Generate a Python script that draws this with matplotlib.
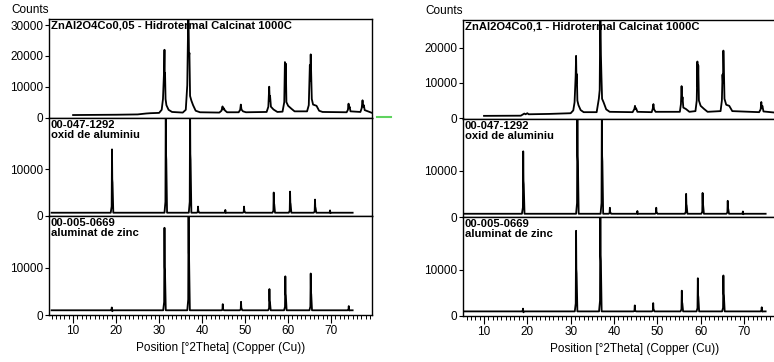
import matplotlib.pyplot as plt
from matplotlib.lines import Line2D
from matplotlib.ticker import MultipleLocator

plt.rcParams['font.family'] = ['Liberation Sans', 'DejaVu Sans']

scan05_x = [10.0, 15.0, 20.0, 25.0, 27.0, 28.0, 30.0, 30.6, 30.9, 31.15, 31.25, 31.32, 31.38, 31.5,
            31.7, 32.2, 33.0, 35.5, 36.2, 36.55, 36.8, 36.95, 37.05, 37.2, 37.5, 37.9, 38.5, 39.5,
            44.0, 44.5, 44.75, 44.9, 45.05, 45.3, 45.8, 48.5, 48.85, 49.0, 49.15, 49.5, 50.2,
            55.0, 55.4, 55.6, 55.72, 55.8, 56.0, 56.6, 57.5, 58.7, 59.1, 59.25, 59.35, 59.45, 59.6,
            60.0, 60.8, 61.5, 64.4, 64.8, 65.05, 65.12, 65.25, 65.38, 65.5, 65.8, 66.6, 67.2, 68.0,
            73.6, 73.9, 74.05, 74.15, 74.3, 74.5, 76.8, 77.1, 77.3, 77.45, 77.6, 77.8, 79.5]
scan05_y = [800, 850, 900, 1000, 1300, 1400, 1500, 2500, 6000, 15000, 22000, 13000, 14500, 6000,
            4000, 2500, 1800, 1600, 2500, 10500, 36000, 20000, 21000, 7000, 5500, 4000, 2200, 1700,
            1600, 2200, 3600, 2600, 3000, 2300, 1700, 1700, 2500, 4200, 2600, 2000, 1700,
            1800, 3500, 10000, 5500, 7000, 3500, 2600, 1800, 1900, 5000, 18000, 10000, 17500, 5000,
            3800, 2800, 2000, 2000, 4000, 17000, 12000, 20500, 13000, 6000, 4200, 3800, 2200, 1800,
            1700, 2500, 4500, 3000, 3500, 2000, 1800, 3000, 5600, 3500, 4000, 2400, 1500]

# measured scan ZnAl2O4Co0,1
scan1_x = [10.0, 18.5, 18.9, 19.3, 19.6, 20.0, 20.3, 25.0, 30.0, 30.6, 30.9, 31.15, 31.25, 31.35,
           31.42, 31.55, 31.8, 32.3, 33.0, 36.0, 36.5, 36.7, 36.85, 36.98, 37.1, 37.25, 37.6, 38.2,
           39.0, 44.3, 44.7, 44.85, 44.95, 45.1, 45.4, 48.7, 48.95, 49.1, 49.25, 49.6, 55.2, 55.45,
           55.6, 55.72, 55.82, 56.0, 56.6, 57.4, 58.8, 59.1, 59.25, 59.35, 59.45, 59.6, 60.0, 60.8,
           61.6, 64.6, 64.9, 65.05, 65.15, 65.25, 65.38, 65.5, 65.9, 66.6, 67.3, 73.5, 73.85, 74.0,
           74.1, 74.25, 74.5, 77.0, 79.5]
scan1_y = [650, 700, 1000, 1300, 1100, 1400, 1100, 1200, 1400, 2200, 4500, 12000, 17700, 10000,
           12500, 5000, 3700, 2300, 1700, 1700, 5500, 8000, 32000, 18000, 12000, 5500, 4500, 2500,
           1800, 1700, 2600, 3500, 2600, 2800, 1800, 1700, 2700, 4000, 2500, 1800, 1800, 4000,
           9100, 5000, 6000, 3000, 2600, 1800, 2000, 5000, 16100, 9000, 15000, 5000, 3500, 2600,
           1800, 2000, 5000, 12400, 10000, 19200, 13000, 5500, 3800, 3500, 2000, 1700, 2500, 4600,
           3000, 3500, 1900, 1600, 1500]

# reference 00-047-1292 (oxid de aluminiu)
ref_al_pos = [19.05, 31.55, 37.2, 39.05, 45.4, 49.75, 56.65, 60.45, 66.25, 69.75]
ref_al_int = [14200, 24000, 24000, 2000, 1300, 2000, 5000, 5200, 3500, 1200]
ref_al_base = 700

# reference 00-005-0669 (aluminat de zinc)
ref_zn_pos = [19.0, 31.25, 36.85, 44.8, 49.05, 55.65, 59.35, 65.25, 74.1]
ref_zn_int = [1600, 18500, 24000, 2300, 2800, 5500, 8200, 8800, 1900]
ref_zn_base = 1000

ref_range = (5.0, 75.0)

W, H = 774, 362


def stick_profile(pos, heights, base, lo, hi):
    xs, ys = [lo], [base]
    for p, h in zip(pos, heights):
        xs += [p - 0.3, p - 0.08, p, p + 0.06, p + 0.12, p + 0.3]
        ys += [base, base + 0.1 * (h - base), h, 0.55 * h, 0.5 * h, base]
    xs.append(hi)
    ys.append(base)
    return xs, ys


def draw_panel(fig, x0, x1, edges, xlim, scan, title, ylims, top_ticks):
    axes = []
    for i in range(3):
        top, bot = edges[i], edges[i + 1]
        ax = fig.add_axes([x0 / W, (H - bot) / H, (x1 - x0) / W, (bot - top) / H])
        ax.set_xlim(*xlim)
        ax.set_ylim(*ylims[i])
        for s in ax.spines.values():
            s.set_linewidth(1.0)
        ax.tick_params(axis='y', direction='out', length=3, width=0.8, pad=1, labelsize=8.5)
        axes.append(ax)

    a_top, a_mid, a_bot = axes
    a_top.plot(scan[0], scan[1], color='black', lw=1.3)
    xs, ys = stick_profile(ref_al_pos, ref_al_int, ref_al_base, *ref_range)
    a_mid.plot(xs, ys, color='black', lw=1.3)
    xs, ys = stick_profile(ref_zn_pos, ref_zn_int, ref_zn_base, *ref_range)
    a_bot.plot(xs, ys, color='black', lw=1.3)

    a_top.set_yticks(top_ticks)
    a_top.set_yticklabels([str(v) for v in top_ticks])
    for ax in (a_mid, a_bot):
        ax.set_yticks([0, 10000])
        ax.set_yticklabels(['0', '10000'])

    for ax in (a_top, a_mid):
        ax.tick_params(axis='x', bottom=False, labelbottom=False)
    a_bot.set_xticks([10, 20, 30, 40, 50, 60, 70])
    a_bot.xaxis.set_minor_locator(MultipleLocator(1))
    a_bot.tick_params(axis='x', which='major', direction='out', length=6, width=0.8, pad=1, labelsize=8.5)
    a_bot.tick_params(axis='x', which='minor', direction='out', length=3, width=0.7)
    a_bot.set_xlabel('Position [°2Theta] (Copper (Cu))', fontsize=8.5, labelpad=1)
    a_bot.xaxis.set_label_coords(0.53, -0.27)

    label_kw = dict(fontsize=8.1, fontweight='bold', va='top', ha='left', linespacing=0.95)
    a_top.text(0.006, 0.985, title, transform=a_top.transAxes, **label_kw)
    a_mid.text(0.006, 0.975, '00-047-1292\noxid de aluminiu', transform=a_mid.transAxes, **label_kw)
    a_bot.text(0.006, 0.975, '00-005-0669\naluminat de zinc', transform=a_bot.transAxes, **label_kw)

    fig.text(x0 / W, (H - edges[0] + 3) / H, 'Counts', fontsize=8.5, ha='right', va='bottom')
    return axes


fig = plt.figure(figsize=(W / 100, H / 100), dpi=100)

draw_panel(fig, 49, 372, [19, 117.5, 216, 315], (4.4, 79.5), (scan05_x, scan05_y),
           'ZnAl2O4Co0,05 - Hidrotermal Calcinat 1000C',
           [(0, 32000), (0, 21000), (0, 21000)], [0, 10000, 20000, 30000])

draw_panel(fig, 463, 786, [20, 118.5, 217, 316], (5.15, 79.7), (scan1_x, scan1_y),
           'ZnAl2O4Co0,1 - Hidrotermal Calcinat 1000C',
           [(-100, 27900), (0, 21300), (0, 21500)], [0, 10000, 20000])

# green marker next to the left panel
fig.add_artist(Line2D([377 / W, 391 / W], [(H - 117) / H, (H - 117) / H],
                      color='#5fd35f', lw=1.5, transform=fig.transFigure))

fig.savefig('out.png', dpi=100)
